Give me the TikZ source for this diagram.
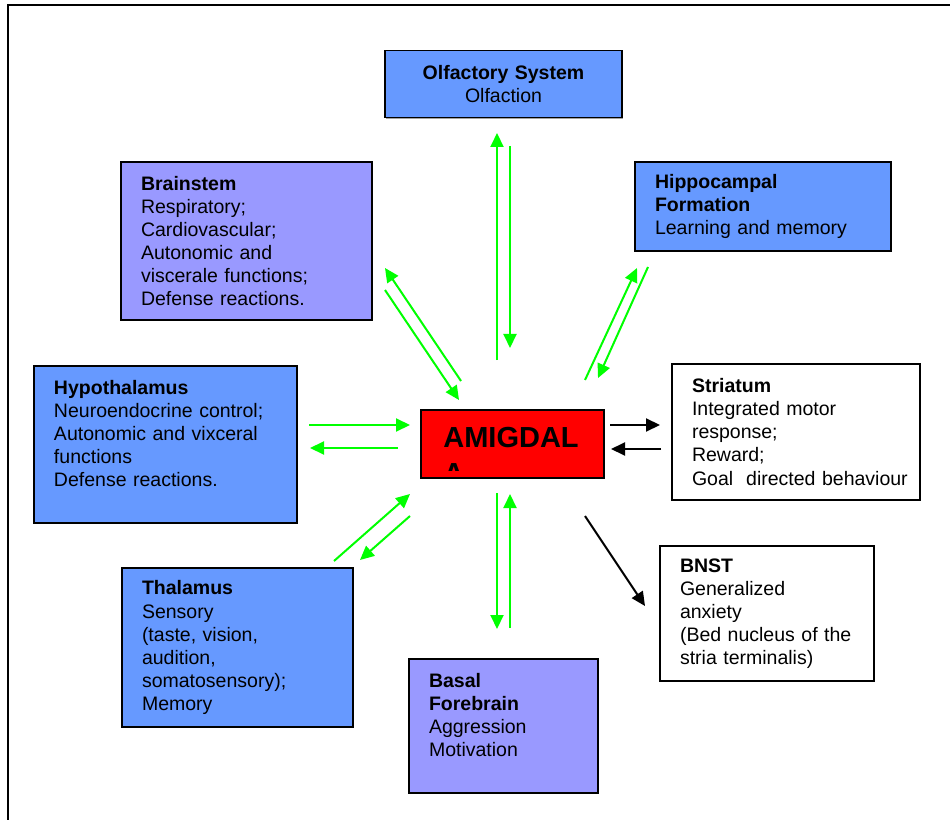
\documentclass[tikz,border=0pt]{standalone}
\usepackage{fontspec}
\setmainfont{Liberation Sans}
\usepackage{xcolor}
\usetikzlibrary{arrows.meta,shadows}

\definecolor{regionblue}{HTML}{6699FF}
\definecolor{regionviolet}{HTML}{9999FF}
\definecolor{amygred}{HTML}{FF0000}
\definecolor{linkgreen}{HTML}{00FF00}
\newcommand{\boxfont}{\fontsize{11.1}{13.1}\selectfont}
\newcommand{\amygfont}{\fontsize{16.5}{19.8}\selectfont\bfseries}

\tikzset{
    region/.style={draw=black, line width=0.8pt, inner xsep=4mm, inner ysep=0pt,
        align=left, font=\boxfont,
        drop shadow={shadow xshift=0.7pt, shadow yshift=-0.7pt, fill=black!45, opacity=0.8}},
    bluebox/.style={region, fill=regionblue},
    violetbox/.style={region, fill=regionviolet},
    whitebox/.style={region, fill=white},
    link/.style={draw=linkgreen, line width=0.4mm, -{Triangle[length=2.8mm,width=2.6mm]}},
    blacklink/.style={link, draw=black},
}

\begin{document}
\begin{tikzpicture}[x=0.2mm, y=-0.2mm]
    \useasboundingbox (0,0) rectangle (950,820);
    \draw[line width=0.45mm] (8,820) -- (8,5) -- (950,5);

    \node[bluebox, align=center, text width=39.4mm, minimum height=13.4mm] (olf) at (503.5,84)
        {\textbf{Olfactory System}\\Olfaction};
    \node[violetbox, text width=42.2mm, minimum height=31.6mm] (brain) at (246.5,241)
        {\textbf{Brainstem}\\Respiratory;\\Cardiovascular;\\Autonomic and\\viscerale functions;\\Defense reactions.};
    \node[bluebox, text width=43.2mm, minimum height=17.8mm] (hippo) at (763,206.5)
        {\textbf{Hippocampal}\\\textbf{Formation}\\Learning and memory};
    \node[bluebox, text width=44.6mm, minimum height=31.4mm] (hypo) at (165.5,444.5)
        {\textbf{Hypothalamus}\\Neuroendocrine control;\\Autonomic and vixceral\\functions\\Defense reactions.\\\mbox{}};
    \node[whitebox, text width=41.6mm, minimum height=27.2mm] (stria) at (796,432)
        {\textbf{Striatum}\\Integrated motor\\response;\\Reward;\\\mbox{Goal\ \ directed behaviour}};
    \node[bluebox, text width=38.2mm, minimum height=31.8mm] (thal) at (237.5,647.5)
        {\textbf{Thalamus}\\Sensory\\(taste, vision,\\audition,\\somatosensory);\\Memory};
    \node[violetbox, text width=29.8mm, minimum height=26.8mm] (basal) at (503.5,726)
        {\textbf{Basal}\\\textbf{Forebrain}\\Aggression\\Motivation\\\mbox{}};
    \node[whitebox, text width=34.8mm, minimum height=27mm] (bnst) at (767,613.5)
        {\textbf{BNST}\\Generalized\\anxiety\\(Bed nucleus of the\\stria terminalis)};

    \node[region, fill=amygred, minimum width=36.6mm, minimum height=13.6mm, inner sep=0pt] (amyg) at (512.5,444) {};
    \node[anchor=base west, font=\amygfont, inner sep=0pt] (amyglabel) at (443,447) {AMIGDAL};
    \begin{scope}
        \clip (421,410) rectangle (604,470);
        \node[anchor=base west, font=\amygfont, inner sep=0pt] (amygwrap) at (443,483) {A};
    \end{scope}

    \coordinate (olfup-s) at (497,360);   \coordinate (olfup-e) at (497,133);
    \coordinate (olfdn-s) at (510,146);   \coordinate (olfdn-e) at (510,348);
    \coordinate (brup-s) at (461,381);    \coordinate (brup-e) at (385,268);
    \coordinate (brdn-s) at (385,290);    \coordinate (brdn-e) at (459,400);
    \coordinate (hipup-s) at (585,380);   \coordinate (hipup-e) at (637,268);
    \coordinate (hipdn-s) at (648,267);   \coordinate (hipdn-e) at (598,378);
    \coordinate (hypin-s) at (309,425);   \coordinate (hypin-e) at (410,425);
    \coordinate (hypout-s) at (398,448);  \coordinate (hypout-e) at (310,448);
    \coordinate (strout-s) at (610,425);  \coordinate (strout-e) at (660,425);
    \coordinate (strin-s) at (661,449);   \coordinate (strin-e) at (611,449);
    \coordinate (thalin-s) at (334,561);  \coordinate (thalin-e) at (410,494);
    \coordinate (thalout-s) at (410,516); \coordinate (thalout-e) at (360,560);
    \coordinate (basdn-s) at (497,493);   \coordinate (basdn-e) at (497,629);
    \coordinate (basup-s) at (510,628);   \coordinate (basup-e) at (510,494);
    \coordinate (bnst-s) at (585,516);    \coordinate (bnst-e) at (645,606);

    \draw[link] (olfup-s) -- (olfup-e);
    \draw[link] (olfdn-s) -- (olfdn-e);
    \draw[link] (brup-s) -- (brup-e);
    \draw[link] (brdn-s) -- (brdn-e);
    \draw[link] (hipup-s) -- (hipup-e);
    \draw[link] (hipdn-s) -- (hipdn-e);
    \draw[link] (hypin-s) -- (hypin-e);
    \draw[link] (hypout-s) -- (hypout-e);
    \draw[link] (thalin-s) -- (thalin-e);
    \draw[link] (thalout-s) -- (thalout-e);
    \draw[link] (basdn-s) -- (basdn-e);
    \draw[link] (basup-s) -- (basup-e);
    \draw[blacklink] (strout-s) -- (strout-e);
    \draw[blacklink] (strin-s) -- (strin-e);
    \draw[blacklink] (bnst-s) -- (bnst-e);
\end{tikzpicture}
\end{document}
